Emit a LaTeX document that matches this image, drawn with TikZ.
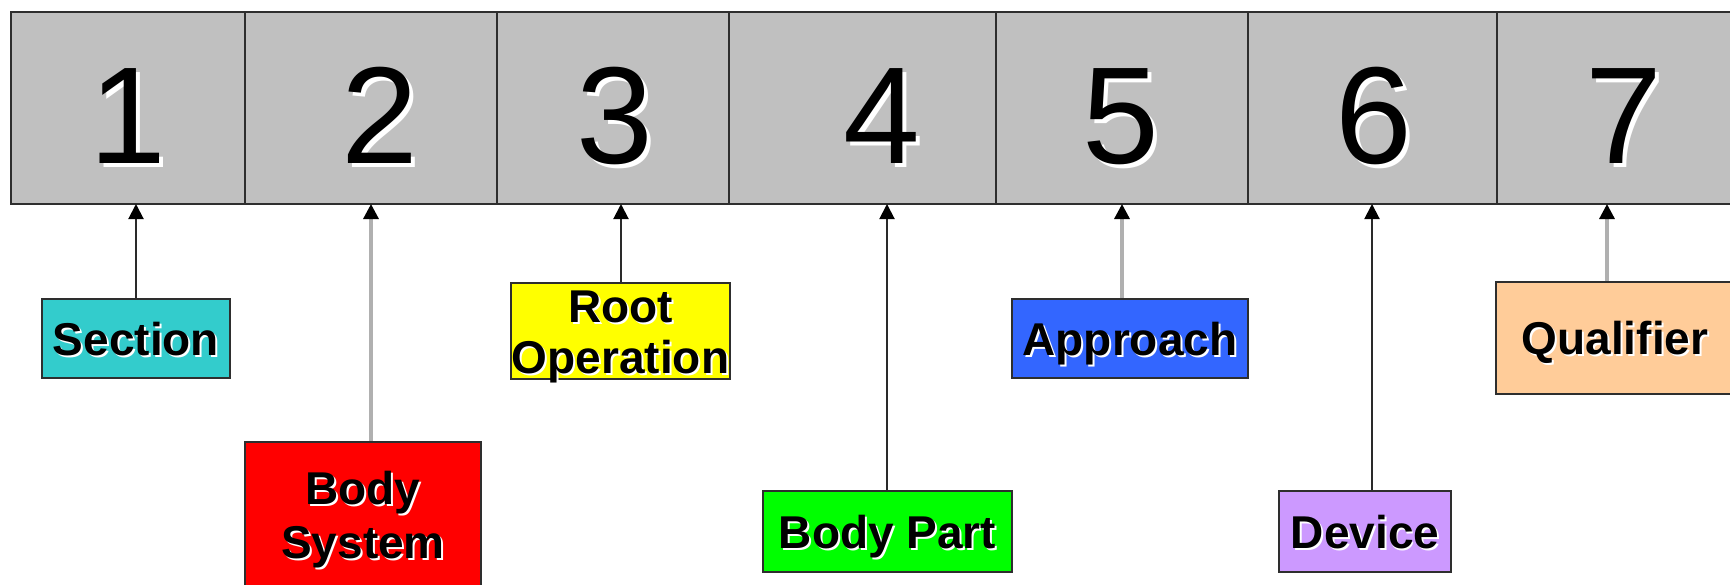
\documentclass[tikz,border=0pt]{standalone}
\usepackage{fontspec}
\setmainfont{Liberation Sans}
\usetikzlibrary{arrows.meta}

\definecolor{cellgray}{HTML}{C0C0C0}
\definecolor{edge}{HTML}{2E2E2E}
\definecolor{wire}{HTML}{2A2A2A}
\definecolor{softwire}{HTML}{B0B0B0}
\definecolor{teal}{HTML}{33CCCC}
\definecolor{redbox}{HTML}{FF0000}
\definecolor{yellowbox}{HTML}{FFFF00}
\definecolor{greenbox}{HTML}{00FF00}
\definecolor{bluebox}{HTML}{3366FF}
\definecolor{lilac}{HTML}{CC99FF}
\definecolor{peach}{HTML}{FFCC99}

% text with a white drop shadow offset down and to the right
\newcommand\shd[2]{\leavevmode\rlap{\kern#1\raisebox{-#1}{\color{white}#2}}#2}

\begin{document}
\begin{tikzpicture}[x=0.5pt,y=-0.5pt,
  cell/.style={draw=edge, line width=1pt, fill=cellgray, inner sep=0pt,
    minimum height=96pt},
  digit/.style={anchor=base, inner sep=0pt, font=\fontsize{69}{69}\selectfont},
  lbl/.style={draw=edge, line width=1pt, inner sep=0pt, align=center,
    font=\bfseries\fontsize{23}{26}\selectfont, text height=16.5pt, text depth=0pt},
  twoline/.style={font=\bfseries\fontsize{23}{#1}\selectfont,
    text height={16.5pt+#1}, text depth=0pt},
  conn/.style={draw=wire, line width=1pt,
    -{Triangle[width=7.5pt,length=7.5pt,color=black]}},
  gconn/.style={draw=softwire, line width=1.6pt,
    -{Triangle[width=7.5pt,length=7.5pt,color=black]}}]

\useasboundingbox (0,0) rectangle (1730,584);
\clip (0,0) rectangle (1730,584);

% the seven character positions
\node[cell, minimum width=117pt]   (c1) at (128,108) {};
\node[cell, minimum width=126pt]   (c2) at (371,108) {};
\node[cell, minimum width=116pt]   (c3) at (613,108) {};
\node[cell, minimum width=133.5pt] (c4) at (862.5,108) {};
\node[cell, minimum width=126pt]   (c5) at (1122,108) {};
\node[cell, minimum width=124.5pt] (c6) at (1372.5,108) {};
\node[cell, minimum width=131.5pt] (c7) at (1628.5,108) {};

\node[digit] (d1) at (128,163)  {\shd{2pt}{1}};
\node[digit] (d2) at (380,163)  {\shd{2pt}{2}};
\node[digit] (d3) at (615,163)  {\shd{2pt}{3}};
\node[digit] (d4) at (882,163)  {\shd{2pt}{4}};
\node[digit] (d5) at (1121,163) {\shd{2pt}{5}};
\node[digit] (d6) at (1374,163) {\shd{2pt}{6}};
\node[digit] (d7) at (1624,163) {\shd{2pt}{7}};

% arrow tips on the lower edge of the bar
\coordinate (p1) at (136,204);
\coordinate (p2) at (371,204);
\coordinate (p3) at (621,204);
\coordinate (p4) at (887,204);
\coordinate (p5) at (1122,204);
\coordinate (p6) at (1372,204);
\coordinate (p7) at (1607,204);

% labels
\node[lbl, fill=teal, minimum width=94pt, minimum height=39.5pt]
  (sec) at (136,338.5) {\shd{1pt}{Section}};
\node[lbl, twoline=27pt, fill=redbox, minimum width=118pt, minimum height=73pt]
  (bsys) at (363,515) {\shd{1pt}{Body}\\\shd{1pt}{System}};
\node[lbl, twoline=25.5pt, fill=yellowbox, minimum width=109.5pt, minimum height=48pt]
  (rop) at (620.5,331) {\shd{1pt}{Root}\\\shd{1pt}{Operation}};
\node[lbl, fill=greenbox, minimum width=124.5pt, minimum height=40.5pt]
  (bpart) at (887.5,531.5) {\shd{1pt}{Body Part}};
\node[lbl, fill=bluebox, minimum width=118pt, minimum height=39.5pt]
  (appr) at (1130,338.5) {\shd{1pt}{Approach}};
\node[lbl, fill=lilac, minimum width=86pt, minimum height=40.5pt]
  (dev) at (1365,531.5) {\shd{1pt}{Device}};
\node[lbl, fill=peach, minimum width=119pt, minimum height=56pt]
  (qual) at (1615,338) {\shd{1pt}{Qualifier}};

% connectors
\draw[conn]  (sec.north -| p1)   -- (p1);
\draw[gconn] (bsys.north -| p2)  -- (p2);
\draw[conn]  (rop.north -| p3)   -- (p3);
\draw[conn]  (bpart.north -| p4) -- (p4);
\draw[gconn] (appr.north -| p5)  -- (p5);
\draw[conn]  (dev.north -| p6)   -- (p6);
\draw[gconn] (qual.north -| p7)  -- (p7);
\end{tikzpicture}
\end{document}
